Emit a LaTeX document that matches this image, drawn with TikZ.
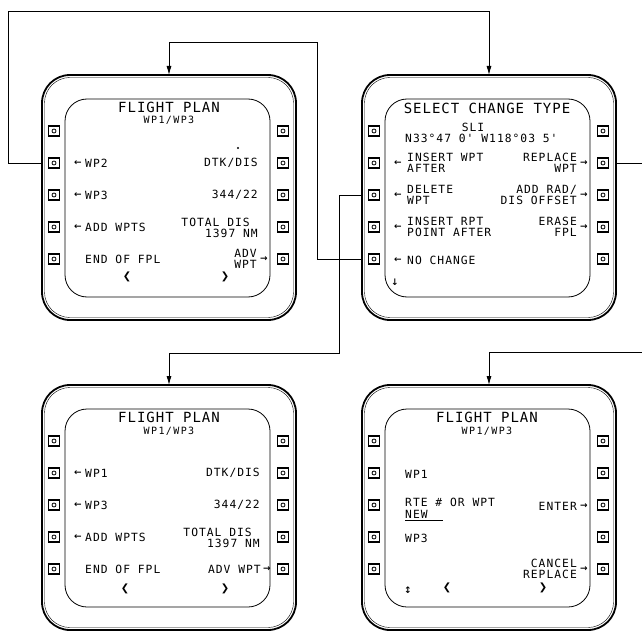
\documentclass[tikz,border=0pt]{standalone}
\usepackage{fontspec}
\usetikzlibrary{arrows.meta}
\newfontfamily\cdufont[LetterSpace=9]{DejaVu Sans Mono}
\newfontfamily\cduTfont[LetterSpace=7]{DejaVu Sans Mono}
\newfontfamily\cduSfont[LetterSpace=14]{DejaVu Sans Mono}
\newfontfamily\cdusym{DejaVu Sans}
\newcommand\cdubody{\cdufont\fontsize{11.3}{11.5}\selectfont}
\newcommand\cdutitle{\cduTfont\fontsize{14}{14}\selectfont}
\newcommand\cdusub{\cduSfont\fontsize{10}{10}\selectfont}
\tikzset{
  bezel/.style={draw, rectangle, line width=1.8pt, rounded corners=28pt,
    minimum width=254pt, minimum height=245pt, inner sep=0pt, outer sep=0pt},
  bezelin/.style={line width=0.4pt, rounded corners=25.5pt},
  screen/.style={line width=0.8pt, rounded corners=22pt},
  lsk/.style={draw, line width=1.4pt, minimum width=11.5pt, minimum height=10pt,
    inner sep=0pt, path picture={\draw[line width=0.8pt]
      (path picture bounding box.center) circle (2pt);}},
  txt/.style={inner sep=0pt, font=\cdubody},
  ttl/.style={inner sep=0pt, font=\cdutitle},
  sub/.style={inner sep=0pt, font=\cdusub},
  sym/.style={inner sep=0pt, font=\cdusym\bfseries\fontsize{9}{9}\selectfont},
  chev/.style={inner sep=0pt, font=\cdusym\fontsize{10}{10}\selectfont},
  dotn/.style={circle, fill, inner sep=0pt, minimum size=2.2pt},
  conn/.style={line width=0.8pt},
  arr/.style={conn, -{Latex[length=9pt,width=5pt]}},
}
\newcommand\cduframe[3]{%
  \node[bezel] (#1) at (#2+127,#3+122.5) {};
  \draw[bezelin] ([shift={(2.5,-2.5)}]#1.south west) rectangle ([shift={(-2.5,2.5)}]#1.north east);
  \draw[screen] (#2+23,#3+24) rectangle (#2+228,#3+222);
  \foreach \d [count=\i] in {56,88,120,152,184} {
    \node[lsk] (#1l\i) at (#2+12,#3+\d) {};
    \node[lsk] (#1r\i) at (#2+241,#3+\d) {};
  }
}
\begin{document}
\begin{tikzpicture}[x=1pt,y=-1pt]
\fill[white] (0,0) rectangle (642,631);
\useasboundingbox (0,0) rectangle (642,631);

\cduframe{tl}{42}{75}
\cduframe{tr}{362}{75}
\cduframe{bl}{42}{385}
\cduframe{br}{362}{385}

% ---------- top left panel
\begin{scope}[shift={(42,75)}]
  \node[ttl] (tl-t) at (127,32) {FLIGHT PLAN};
  \node[sub] (tl-s) at (127,45) {WP1/WP3};
  \node[dotn] (tl-dot) at (196,73) {};
  \node[sym] (tl-a2) at (36,88) {←};
  \node[txt,anchor=west] (tl-x2) at (43,88) {WP2};
  \node[sym] (tl-a3) at (36,120) {←};
  \node[txt,anchor=west] (tl-x3) at (43,120) {WP3};
  \node[sym] (tl-a4) at (36,152) {←};
  \node[txt,anchor=west] (tl-x4) at (43,152) {ADD WPTS};
  \node[txt,anchor=west] (tl-x5) at (43,184) {END OF FPL};
  \node[txt,anchor=east] (tl-y2) at (216,88) {DTK/DIS};
  \node[txt,anchor=east] (tl-y3) at (216,120) {344/22};
  \node[txt,anchor=east] (tl-y4a) at (208,147) {TOTAL DIS};
  \node[txt,anchor=east] (tl-y4b) at (216,158) {1397 NM};
  \node[txt,anchor=east,align=right] (tl-y5) at (215,184) {ADV\\WPT};
  \node[sym] (tl-b5) at (222,184) {→};
  \node[chev] (tl-cl) at (85,202) {❮};
  \node[chev] (tl-cr) at (183,202) {❯};
\end{scope}

% ---------- top right panel
\begin{scope}[shift={(362,75)}]
  \node[ttl] (tr-t) at (125,33) {SELECT CHANGE TYPE};
  \node[txt] (tr-s) at (111,52) {SLI};
  \node[txt,anchor=west] (tr-p) at (43,63) {N33°47 0' W118°03 5'};
  \node[sym] (tr-a2) at (36,88) {←};
  \node[txt,anchor=west,align=left] (tr-x2) at (45,88) {INSERT WPT\\AFTER};
  \node[sym] (tr-a3) at (36,120) {←};
  \node[txt,anchor=west,align=left] (tr-x3) at (45,120) {DELETE\\WPT};
  \node[sym] (tr-a4) at (36,152) {←};
  \node[txt,anchor=west,align=left] (tr-x4) at (45,152) {INSERT RPT\\POINT AFTER};
  \node[sym] (tr-a5) at (36,185) {←};
  \node[txt,anchor=west] (tr-x5) at (45,185) {NO CHANGE};
  \node[sym] (tr-dn) at (33,207) {↓};
  \node[txt,anchor=east,align=right] (tr-y2) at (215,88) {REPLACE\\WPT};
  \node[sym] (tr-b2) at (222,88) {→};
  \node[txt,anchor=east,align=right] (tr-y3) at (215,120) {ADD RAD/\\DIS OFFSET};
  \node[sym] (tr-b3) at (222,120) {→};
  \node[txt,anchor=east,align=right] (tr-y4) at (215,152) {ERASE\\FPL};
  \node[sym] (tr-b4) at (222,152) {→};
\end{scope}

% ---------- bottom left panel
\begin{scope}[shift={(42,385)}]
  \node[ttl] (bl-t) at (127,32) {FLIGHT PLAN};
  \node[sub] (bl-s) at (127,46) {WP1/WP3};
  \node[sym] (bl-a2) at (36,88) {←};
  \node[txt,anchor=west] (bl-x2) at (43,88) {WP1};
  \node[sym] (bl-a3) at (36,120) {←};
  \node[txt,anchor=west] (bl-x3) at (43,120) {WP3};
  \node[sym] (bl-a4) at (36,152) {←};
  \node[txt,anchor=west] (bl-x4) at (43,152) {ADD WPTS};
  \node[txt,anchor=west] (bl-x5) at (43,184) {END OF FPL};
  \node[txt,anchor=east] (bl-y2) at (218,88) {DTK/DIS};
  \node[txt,anchor=east] (bl-y3) at (218,120) {344/22};
  \node[txt,anchor=east] (bl-y4a) at (210,147) {TOTAL DIS};
  \node[txt,anchor=east] (bl-y4b) at (218,158) {1397 NM};
  \node[txt,anchor=east] (bl-y5) at (219,184) {ADV WPT};
  \node[sym] (bl-b5) at (225,184) {→};
  \node[chev] (bl-cl) at (83,204) {❮};
  \node[chev] (bl-cr) at (183,204) {❯};
\end{scope}

% ---------- bottom right panel
\begin{scope}[shift={(362,385)}]
  \node[ttl] (br-t) at (125,32) {FLIGHT PLAN};
  \node[sub] (br-s) at (125,46) {WP1/WP3};
  \node[txt,anchor=west] (br-x2) at (43,89) {WP1};
  \node[txt,anchor=west] (br-x3a) at (43,117) {RTE \# OR WPT};
  \node[txt,anchor=west] (br-x3b) at (43,129) {NEW};
  \draw[line width=0.6pt] ([yshift=-1.5pt]br-x3b.south west) -- ++(38,0);
  \node[txt,anchor=west] (br-x4) at (43,153) {WP3};
  \node[txt,anchor=east] (br-y3) at (215,121) {ENTER};
  \node[sym] (br-b3) at (222,121) {→};
  \node[txt,anchor=east,align=right] (br-y5) at (215,184) {CANCEL\\REPLACE};
  \node[sym] (br-b5) at (222,184) {→};
  \node[sym] (br-ud) at (46,205) {↕};
  \node[chev] (br-cl) at (85,203) {❮};
  \node[chev] (br-cr) at (181,203) {❯};
\end{scope}

% ---------- connectors
\coordinate (k1) at (8,11);
\coordinate (k2) at (317,42);
\coordinate (k3) at (339,353);
\coordinate (e1) at (642,163);
\coordinate (e2) at (642,352);
\draw[arr] (tl.west |- tll2) -| (k1) -| (tr.north);
\draw[arr] (tr.west |- trl5) -| (k2) -| (tl.north);
\draw[arr] (tr.west |- trl3) -| (k3) -| (bl.north);
\draw[conn] (tr.east |- trr2) -- (e1);
\draw[arr] (e2) -| (br.north);
\end{tikzpicture}
\end{document}
